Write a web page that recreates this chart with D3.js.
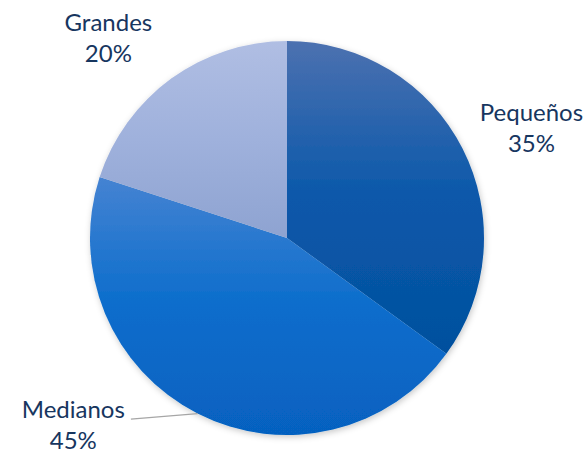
<!DOCTYPE html>
<html>
<head>
<meta charset="utf-8">
<script src="https://cdn.jsdelivr.net/npm/d3@7"></script>
<style>
  html, body { margin: 0; padding: 0; background: #fff; }
  svg { display: block; }
  .label { font-family: Lato, "Noto Sans", sans-serif; font-size: 24px; fill: #17365f; }
</style>
</head>
<body>
<svg id="chart" width="588" height="454"></svg>
<script>
// Distribución por tamaño
const categories = ['Pequeños', 'Medianos', 'Grandes'];
const shares = [35, 45, 20];

// vertical gradients, one per slice (top, middle, bottom)
const sliceColors = [
    ['#4c71b0', '#0a58aa', '#03509e'],
    ['#4583d2', '#0b6dcc', '#0661c0'],
    ['#b0bee3', '#9fb1dc', '#8ea3d1'],
];

// where each label sits: angle (deg, clockwise from 12 o'clock) and distance from centre
const labelPlacement = [
    { angle: 65.8, radius: 268, leader: false },
    { angle: 228.8, radius: 284, leader: true },
    { angle: 318.2, radius: 268, leader: false },
];

const width = 588;
const height = 454;
const cx = 287;
const cy = 238;
const radius = 197;

const svg = d3.select('#chart');
const defs = svg.append('defs');

const shadow = defs.append('filter')
    .attr('id', 'pie-shadow')
    .attr('x', '-10%').attr('y', '-10%')
    .attr('width', '120%').attr('height', '120%');
shadow.append('feDropShadow')
    .attr('dx', 1).attr('dy', 2)
    .attr('stdDeviation', 3)
    .attr('flood-color', '#000')
    .attr('flood-opacity', 0.22);

sliceColors.forEach((c, i) => {
    const g = defs.append('linearGradient')
        .attr('id', `grad-${i}`)
        .attr('x1', 0).attr('y1', 0)
        .attr('x2', 0).attr('y2', 1);
    g.selectAll('stop').data(c).enter().append('stop')
        .attr('offset', (d, j) => `${j * 50}%`)
        .attr('stop-color', d => d);
});

const data = categories.map((name, i) => ({ name, value: shares[i], i }));

const pie = d3.pie()
    .value(d => d.value)
    .sort(null);

const arc = d3.arc()
    .innerRadius(0)
    .outerRadius(radius);

const arcs = pie(data);

const root = svg.append('g')
    .attr('transform', `translate(${cx},${cy})`);

root.append('g')
    .attr('filter', 'url(#pie-shadow)')
  .selectAll('path').data(arcs)
    .enter().append('path')
    .attr('d', arc)
    .attr('fill', d => `url(#grad-${d.data.i})`);

const toRad = deg => deg * Math.PI / 180;

const labels = root.selectAll('g.label-group').data(arcs)
    .enter().append('g')
    .attr('class', 'label-group')
    .attr('transform', d => {
        const p = labelPlacement[d.data.i];
        const a = toRad(p.angle);
        return `translate(${p.radius * Math.sin(a)},${-p.radius * Math.cos(a)})`;
    });

labels.append('text')
    .attr('class', 'label')
    .attr('text-anchor', 'middle')
    .attr('y', -7.5)
    .text(d => d.data.name);

labels.append('text')
    .attr('class', 'label')
    .attr('text-anchor', 'middle')
    .attr('y', 24)
    .text(d => `${d.data.value}%`);

// leader line from slice edge to its label
labels.filter(d => labelPlacement[d.data.i].leader).each(function(d) {
    const group = d3.select(this);
    const p = labelPlacement[d.data.i];
    const a = toRad(p.angle);
    const lx = p.radius * Math.sin(a);
    const ly = -p.radius * Math.cos(a);
    const box = group.select('text').node().getBBox();
    const mid = (d.startAngle + d.endAngle) / 2;
    const sx = radius * Math.sin(mid) - lx;
    const sy = -radius * Math.cos(mid) - ly;
    group.insert('line', 'text')
        .attr('x1', box.x + box.width + 6)
        .attr('y1', -6)
        .attr('x2', sx)
        .attr('y2', sy)
        .attr('stroke', '#a6a6a6')
        .attr('stroke-width', 1.3);
});
</script>
</body>
</html>
